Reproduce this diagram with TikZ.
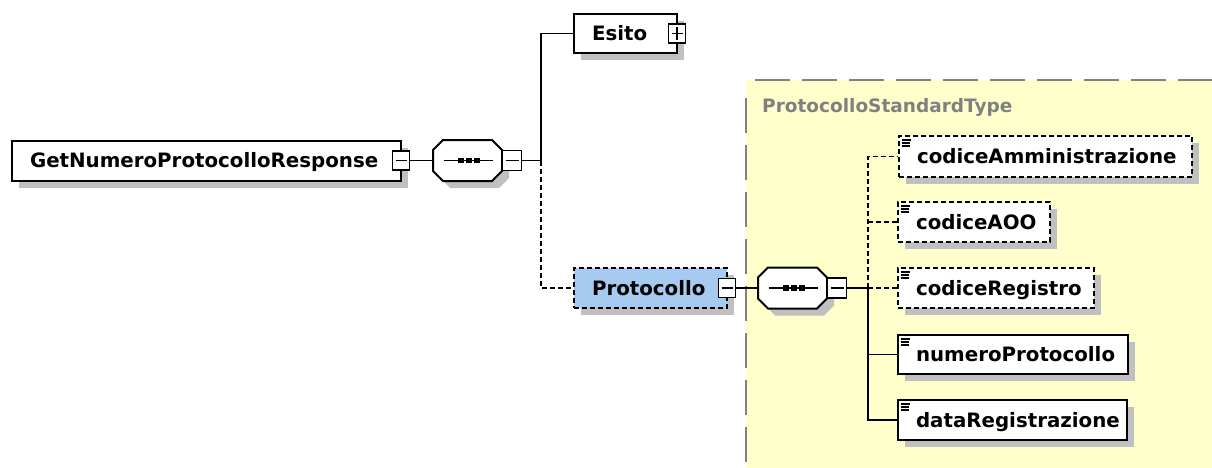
\documentclass[tikz,border=0pt]{standalone}
\usepackage{fontspec}
\setmainfont{DejaVu Sans}
\usetikzlibrary{shadows}
\definecolor{shadowgray}{RGB}{192,192,192}
\definecolor{typebg}{RGB}{255,255,204}
\definecolor{typeborder}{RGB}{128,128,128}
\definecolor{protofill}{RGB}{166,202,240}
\begin{document}
\begin{tikzpicture}[x=1pt,y=-1pt,
  elembox/.style={draw, line width=2pt, fill=white, inner xsep=18pt, inner ysep=0pt,
    minimum height=40pt, align=left, text height=14.4pt, text depth=0pt,
    font=\bfseries\fontsize{19.8}{24}\selectfont,
    drop shadow={shadow xshift=7pt, shadow yshift=-7pt, fill=shadowgray, opacity=1}},
  optional/.style={dash pattern=on 5pt off 3pt},
  conn/.style={line width=1.6pt},
  signbox/.style={draw, line width=1.6pt, fill=white, minimum width=17pt, minimum height=19pt, inner sep=0pt},
  minusbox/.style={signbox, path picture={\draw[line width=1.5pt] ([xshift=3pt]path picture bounding box.west) -- ([xshift=-3pt]path picture bounding box.east);}},
  plusbox/.style={signbox, path picture={\draw[line width=1.5pt] ([xshift=3pt]path picture bounding box.west) -- ([xshift=-3pt]path picture bounding box.east) ([yshift=3pt]path picture bounding box.south) -- ([yshift=-3pt]path picture bounding box.north);}},
  seqshape/.style={minimum width=69pt, minimum height=41pt, inner sep=0pt},
  iconline/.style={line width=1.2pt},
  seqpic/.pic={
    \fill[shadowgray, shift={(7pt,-7pt)}] (-34.5,-10.5) -- (-24.5,-20.5) -- (24.5,-20.5) -- (34.5,-10.5) -- (34.5,10.5) -- (24.5,20.5) -- (-24.5,20.5) -- (-34.5,10.5) -- cycle;
    \draw[fill=white, line width=2pt] (-34.5,-10.5) -- (-24.5,-20.5) -- (24.5,-20.5) -- (34.5,-10.5) -- (34.5,10.5) -- (24.5,20.5) -- (-24.5,20.5) -- (-34.5,10.5) -- cycle;
    \draw[line width=1.5pt] (-24,0) -- (25,0);
    \fill (-9.5,-2.8) rectangle (-3.8,2.8);
    \fill (-1.3,-2.8) rectangle (4.4,2.8);
    \fill (6.9,-2.8) rectangle (12.6,2.8);
  }
]
\useasboundingbox (0,0) rectangle (1212,468);

% type area
\fill[typebg] (746,80) rectangle (1212,468);
\draw[typeborder, line width=1.8pt, dash pattern=on 35pt off 12pt, dash phase=38pt] (746,80) -- (1212,80);
\draw[typeborder, line width=1.8pt, dash pattern=on 35pt off 12pt, dash phase=41pt] (746,92) -- (746,468);
\node[anchor=west, inner sep=0pt, text=typeborder, font=\bfseries\fontsize{18.5}{22}\selectfont] (typelabel) at (762,107) {ProtocolloStandardType};

% elements
\node[elembox, text width=353pt] (root) at (206.5,160.5) {GetNumeroProtocolloResponse};
\node[minusbox] (rootm) at (401,160.5) {};

\node[seqshape] (seq1) at (467.5,160.5) {};
\pic at (seq1) {seqpic};
\node[minusbox, minimum width=19pt, minimum height=20pt] (seq1m) at (512,160.5) {};

\node[elembox, text width=67pt, minimum height=39pt] (esito) at (625.5,33.5) {Esito};
\node[plusbox] (esitop) at (677,33.5) {};

\node[elembox, optional, fill=protofill, text width=117pt] (proto) at (650.5,288) {Protocollo};
\node[minusbox] (protom) at (727,288) {};

\node[seqshape, minimum height=40pt] (seq2) at (792.5,288) {};
\pic at (seq2) {seqpic};
\node[minusbox, minimum width=19pt, minimum height=20pt] (seq2m) at (837,288) {};

\node[elembox, optional, text width=257pt, minimum height=41pt] (cAmm) at (1045.5,156.5) {codiceAmministrazione};
\node[elembox, optional, text width=116pt] (cAOO) at (974,222) {codiceAOO};
\node[elembox, optional, text width=160pt] (cReg) at (996,288) {codiceRegistro};
\node[elembox, text width=194pt, minimum height=39pt] (numP) at (1013,354.5) {numeroProtocollo};
\node[elembox, text width=193pt] (dataR) at (1012.5,420) {dataRegistrazione};

\foreach \n in {cAmm,cAOO,cReg,numP,dataR} {
  \draw[iconline] ([shift={(3.5pt,-5pt)}]\n.north west) -- ++(9pt,0pt)
                  ([shift={(3.5pt,-8pt)}]\n.north west) -- ++(8pt,0pt)
                  ([shift={(3.5pt,-11pt)}]\n.north west) -- ++(8pt,0pt);
}

% connectors
\coordinate (j1) at (541,160.5);
\coordinate (j2) at (868,288);
\draw[conn] (rootm.east) -- (seq1.west);
\draw[conn] (seq1m.east) -- (j1);
\draw[conn] (j1) |- (esito.west);
\draw[conn, optional] (j1) |- (proto.west);
\draw[conn] (protom.east) -- (seq2.west);
\draw[conn] (seq2m.east) -- (j2);
\draw[conn, optional] (j2) |- (cAmm.west);
\draw[conn, optional] (j2 |- cAOO.west) -- (cAOO.west);
\draw[conn, optional] (j2) -- (cReg.west);
\draw[conn] (j2) |- (dataR.west);
\draw[conn] (j2 |- numP.west) -- (numP.west);
\end{tikzpicture}
\end{document}
